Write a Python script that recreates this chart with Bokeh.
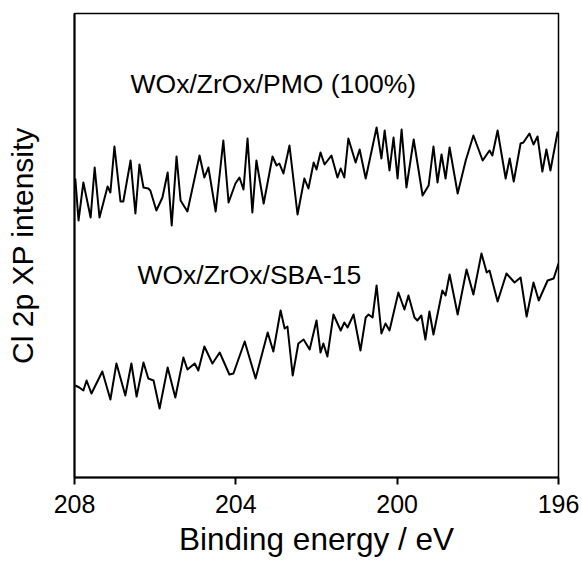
from bokeh.plotting import figure
from bokeh.models import Range1d, Label, FixedTicker
from bokeh.embed import file_html
from bokeh.resources import INLINE

# Binding energy (eV) and intensity (a.u.)
pmo_energy = [207.98, 207.90, 207.78, 207.60, 207.50, 207.38, 207.18, 207.11, 207.01, 206.86,
              206.79, 206.61, 206.49, 206.39, 206.29, 206.17, 206.12, 205.97, 205.82, 205.69,
              205.59, 205.47, 205.37, 205.20, 204.90, 204.78, 204.68, 204.50, 204.31, 204.18,
              204.01, 203.91, 203.81, 203.71, 203.59, 203.49, 203.31, 203.09, 202.99, 202.92,
              202.82, 202.67, 202.47, 202.30, 202.20, 202.07, 202.00, 201.90, 201.80, 201.63,
              201.48, 201.40, 201.31, 201.21, 201.03, 200.93, 200.78, 200.51, 200.39, 200.31,
              200.19, 200.09, 199.99, 199.89, 199.77, 199.59, 199.37, 199.22, 199.10, 199.00,
              198.90, 198.80, 198.70, 198.50, 198.30, 198.11, 197.88, 197.71, 197.64, 197.51,
              197.31, 197.21, 197.11, 196.94, 196.87, 196.72, 196.62, 196.52, 196.40, 196.30,
              196.20, 196.02]
pmo_intensity = [299, 257, 295, 260, 310, 260, 291, 285, 331, 276,
                 276, 317, 264, 313, 290, 289, 287, 267, 280, 305,
                 252, 321, 277, 266, 322, 300, 310, 266, 337, 275,
                 294, 300, 288, 339, 265, 317, 274, 321, 312, 314,
                 304, 332, 263, 299, 289, 315, 308, 325, 313, 322,
                 300, 309, 300, 339, 315, 328, 299, 350, 319, 347,
                 307, 340, 299, 348, 290, 338, 282, 292, 331, 295,
                 323, 299, 330, 284, 317, 342, 317, 327, 322, 347,
                 299, 319, 296, 334, 335, 344, 333, 341, 306, 328,
                 307, 346]

sba_energy = [207.98, 207.88, 207.78, 207.70, 207.58, 207.31, 207.11, 206.96, 206.74, 206.59,
              206.46, 206.29, 206.17, 206.04, 205.89, 205.69, 205.50, 205.30, 205.20, 205.02,
              204.93, 204.78, 204.58, 204.40, 204.16, 204.06, 203.78, 203.51, 203.21, 203.07,
              202.89, 202.79, 202.72, 202.59, 202.45, 202.32, 202.17, 202.00, 201.90, 201.83,
              201.73, 201.58, 201.40, 201.31, 201.23, 201.08, 200.91, 200.78, 200.71, 200.61,
              200.51, 200.39, 200.29, 200.19, 199.97, 199.82, 199.72, 199.57, 199.50, 199.40,
              199.30, 199.20, 199.10, 198.88, 198.80, 198.70, 198.50, 198.28, 198.11, 197.91,
              197.78, 197.71, 197.51, 197.29, 197.09, 196.94, 196.79, 196.62, 196.49, 196.27,
              196.12, 196.00]
sba_intensity = [92, 90, 87, 97, 84, 106, 78, 114, 82, 114,
                 81, 115, 99, 97, 69, 110, 80, 120, 108, 114,
                 107, 131, 114, 125, 103, 104, 136, 99, 145, 126,
                 167, 149, 151, 102, 134, 138, 128, 157, 125, 134,
                 121, 163, 147, 155, 150, 163, 127, 160, 163, 160,
                 192, 144, 154, 147, 185, 168, 182, 160, 157, 162,
                 138, 166, 143, 187, 182, 203, 163, 208, 183, 224,
                 205, 207, 176, 204, 195, 200, 161, 195, 177, 197,
                 199, 214]

x_ticks = [208, 204, 200, 196]
labels = ["WOx/ZrOx/PMO (100%)", "WOx/ZrOx/SBA-15"]
label_x = [206.61, 206.44]
label_y = [394, 203]

FONT = "Liberation Sans"

p = figure(width=582, height=566, output_backend="svg", toolbar_location=None,
           x_range=Range1d(208, 196), y_range=Range1d(0, 464),
           min_border_left=74, min_border_right=24, min_border_top=13, min_border_bottom=89)

p.line(pmo_energy, pmo_intensity, line_color="black", line_width=2, line_join="round")
p.line(sba_energy, sba_intensity, line_color="black", line_width=2, line_join="round")

for t, lx, ly in zip(labels, label_x, label_y):
    p.add_layout(Label(x=lx, y=ly, text=t, text_font=FONT, text_font_size="26.5px",
                       text_baseline="alphabetic", text_color="black"))

p.grid.visible = False
p.outline_line_color = "black"
p.outline_line_width = 1.5
p.outline_line_alpha = 1

p.xaxis.ticker = FixedTicker(ticks=x_ticks)
p.xaxis.minor_tick_line_color = None
p.xaxis.major_tick_in = 0
p.xaxis.major_tick_out = 7
p.xaxis.major_tick_line_width = 2
p.xaxis.axis_line_width = 2
p.xaxis.axis_line_color = "black"
p.xaxis.major_tick_line_color = "black"
p.xaxis.major_label_text_font = FONT
p.xaxis.major_label_text_font_size = "25px"
p.xaxis.major_label_text_color = "black"
p.xaxis.major_label_standoff = 10
p.xaxis.axis_label = "Binding energy / eV"
p.xaxis.axis_label_text_font = FONT
p.xaxis.axis_label_text_font_size = "31.5px"
p.xaxis.axis_label_text_font_style = "normal"
p.xaxis.axis_label_text_color = "black"
p.xaxis.axis_label_standoff = 5

p.yaxis.ticker = FixedTicker(ticks=[])
p.yaxis.minor_tick_line_color = None
p.yaxis.major_tick_line_color = None
p.yaxis.major_label_text_font_size = "0px"
p.yaxis.axis_line_width = 2
p.yaxis.axis_line_color = "black"
p.yaxis.axis_label = "Cl 2p XP intensity"
p.yaxis.axis_label_text_font = FONT
p.yaxis.axis_label_text_font_size = "30px"
p.yaxis.axis_label_text_font_style = "normal"
p.yaxis.axis_label_text_color = "black"
p.yaxis.axis_label_standoff = 36

open("out.html", "w").write(file_html(p, INLINE))
